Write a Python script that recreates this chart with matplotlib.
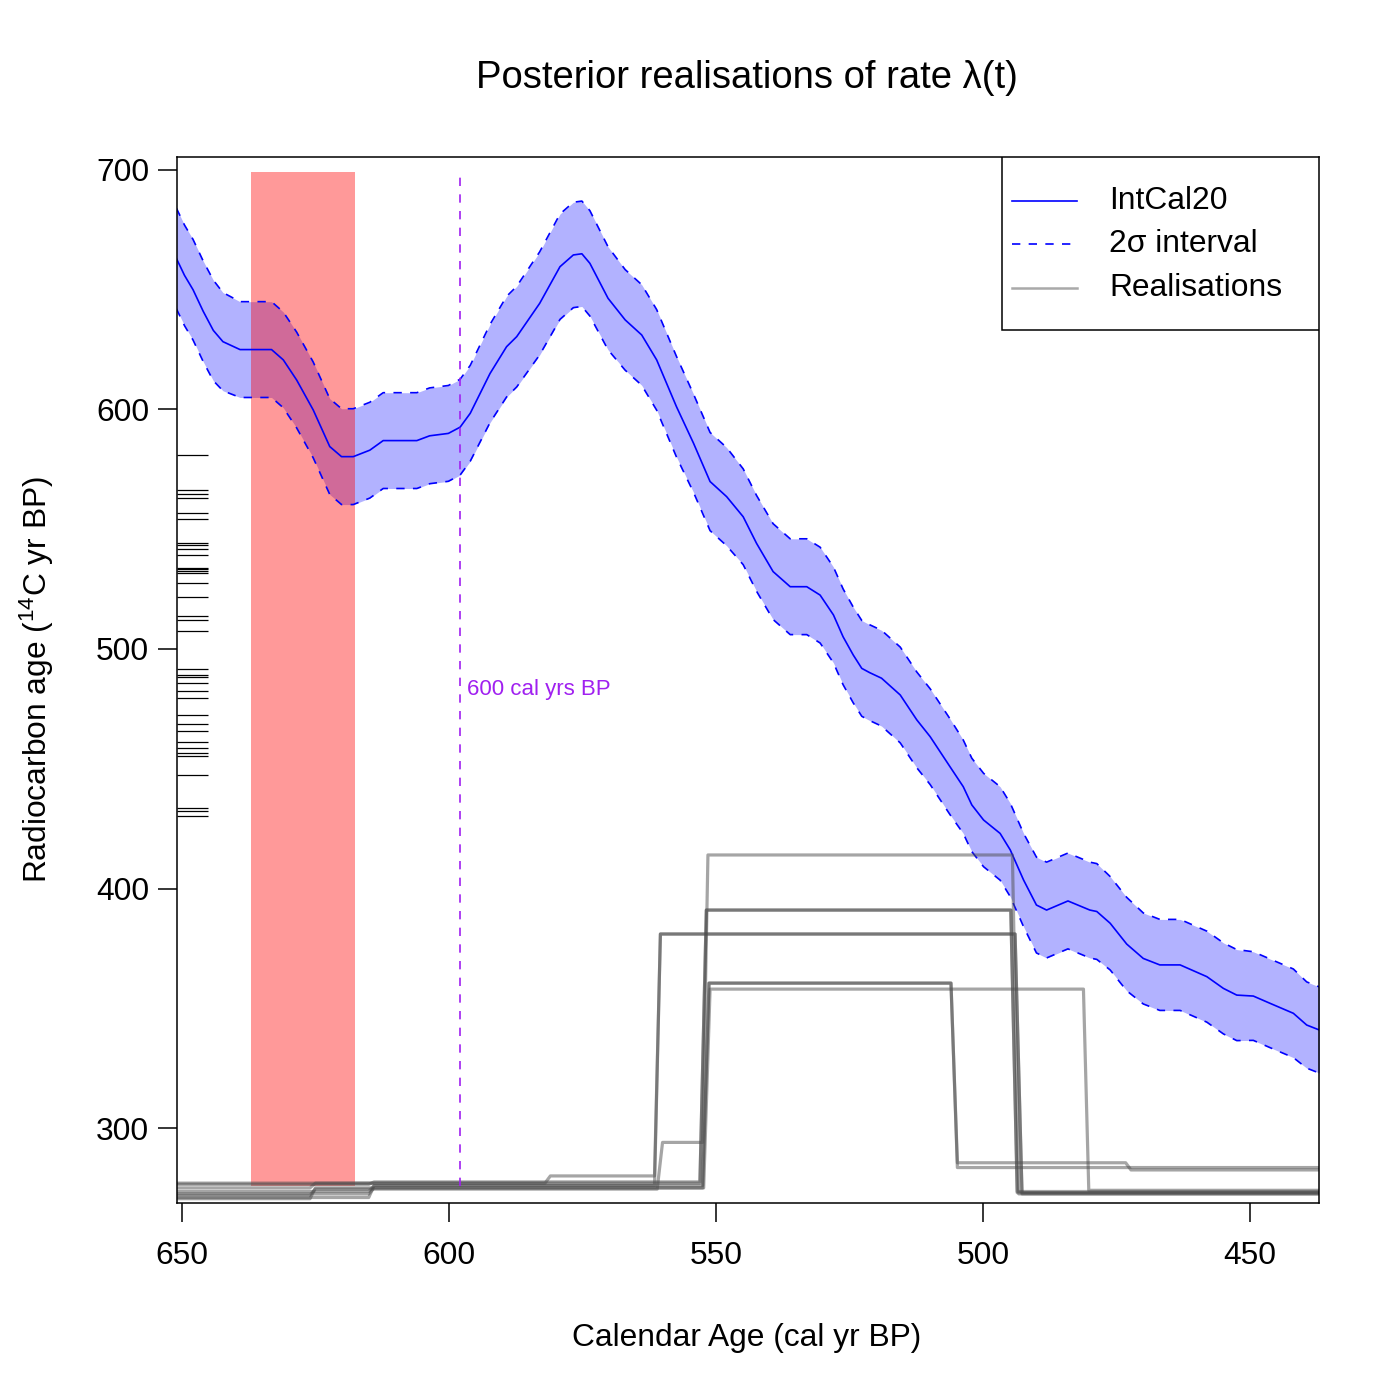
import matplotlib
matplotlib.use('Agg')
import matplotlib.pyplot as plt
from matplotlib.patches import Rectangle
import numpy as np

plt.rcParams['font.family'] = ['Liberation Sans', 'DejaVu Sans']
plt.rcParams['mathtext.fontset'] = 'custom'
plt.rcParams['mathtext.rm'] = 'Liberation Sans'
plt.rcParams['mathtext.it'] = 'Liberation Sans:italic'

# IntCal20 curve
cal_age = [651.0, 649.5, 647.9, 646.0, 644.1, 642.3, 639.1, 633.2, 631.0, 628.5,
           625.4, 622.3, 620.1, 617.9, 614.8, 612.3, 606.0, 603.6, 600.1, 597.9,
           596.0, 592.3, 589.2, 587.3, 583.0, 579.2, 576.7, 575.1, 573.6, 570.2,
           567.0, 563.9, 561.1, 557.4, 554.2, 551.1, 548.0, 544.9, 542.4, 539.3,
           536.1, 533.0, 530.5, 528.0, 526.2, 524.3, 522.7, 521.2, 519.0, 515.5,
           512.4, 509.9, 506.2, 503.7, 502.1, 499.9, 496.8, 494.9, 492.4, 490.0,
           488.1, 484.1, 480.0, 478.7, 476.2, 473.1, 470.0, 466.9, 463.1, 458.1,
           455.0, 452.5, 449.4, 446.3, 441.9, 439.4, 437.0]
c14_mean = [663.0, 656.0, 650.0, 641.0, 633.0, 628.3, 625.0, 625.0, 620.7, 612.3,
            599.8, 584.5, 580.3, 580.3, 583.0, 587.0, 587.0, 589.0, 590.0, 592.6,
            598.4, 615.0, 626.2, 630.4, 644.3, 659.6, 664.5, 665.0, 661.0, 646.4,
            637.4, 631.1, 620.7, 601.2, 585.9, 569.9, 563.6, 555.2, 544.1, 532.3,
            526.0, 526.0, 522.5, 514.2, 505.1, 497.5, 491.9, 490.1, 487.8, 480.8,
            470.4, 463.4, 450.9, 442.5, 434.9, 428.6, 423.0, 416.1, 403.5, 393.1,
            391.0, 394.8, 391.0, 390.4, 385.5, 376.8, 370.8, 368.1, 368.1, 363.2,
            358.3, 355.5, 355.1, 352.1, 347.9, 343.0, 340.9]
c14_2sd = [21.0, 21.0, 21.0, 21.0, 21.0, 20.5, 20.0, 20.0, 20.0, 20.0,
           20.0, 20.0, 20.0, 20.0, 20.0, 20.0, 20.0, 20.0, 20.0, 20.0,
           20.0, 20.5, 21.0, 21.0, 21.5, 22.0, 22.0, 22.0, 22.0, 21.5,
           21.0, 21.0, 21.0, 21.0, 20.5, 20.5, 20.5, 20.0, 20.0, 20.0,
           20.0, 20.0, 20.0, 20.0, 20.0, 20.0, 20.0, 20.0, 20.0, 20.0,
           20.0, 20.0, 20.0, 19.5, 19.5, 19.5, 19.5, 19.5, 19.5, 20.0,
           20.0, 20.0, 20.0, 20.0, 19.5, 19.5, 19.0, 19.0, 19.0, 19.0,
           19.0, 19.0, 18.5, 18.5, 18.5, 18.0, 18.0]

# radiocarbon determinations (rug on the y axis)
c14_obs = [581.0, 566.4, 564.6, 563.2, 556.9, 554.1, 544.1, 543.6, 541.9, 539.3,
           533.9, 533.3, 532.6, 531.9, 527.4, 521.8, 513.8, 512.1, 507.6, 491.5,
           489.0, 488.3, 485.9, 482.6, 479.7, 472.3, 468.7, 465.9, 461.0, 458.5,
           456.4, 455.5, 447.4, 433.8, 432.4, 430.3]

# posterior realisations of the rate (already on the plotting scale)
real_cal = [
    [651, 626.0, 625.0, 561.0, 560.0, 552.5, 551.5, 494.5, 493.3, 437],
    [651, 615.0, 614.0, 553.0, 551.8, 494.8, 493.6, 437],
    [651, 626.0, 625.0, 553.0, 551.8, 494.8, 493.6, 437],
    [651, 582.0, 581.0, 561.5, 560.4, 494.0, 492.7, 437],
    [651, 615.0, 614.0, 561.5, 560.4, 494.0, 492.7, 437],
    [651, 626.0, 625.0, 552.5, 551.3, 506.0, 504.8, 437],
    [651, 615.0, 614.0, 552.5, 551.3, 506.0, 504.8, 473.3, 472.3, 437],
    [651, 615.0, 614.0, 552.3, 551.1, 481.2, 480.2, 437],
]
real_val = [
    [272.0, 272.0, 274.5, 274.5, 294.0, 294.0, 414.0, 414.0, 272.5, 272.5],
    [276.5, 276.5, 277.5, 277.5, 391.0, 391.0, 273.5, 273.5],
    [275.0, 275.0, 277.0, 277.0, 391.0, 391.0, 273.0, 273.0],
    [277.0, 277.0, 280.0, 280.0, 381.0, 381.0, 273.0, 273.0],
    [273.5, 273.5, 276.0, 276.0, 381.0, 381.0, 272.5, 272.5],
    [270.5, 270.5, 275.0, 275.0, 360.5, 360.5, 283.5, 283.5],
    [271.0, 271.0, 276.0, 276.0, 360.5, 360.5, 285.5, 285.5, 282.5, 282.5],
    [272.5, 272.5, 275.0, 275.0, 358.0, 358.0, 274.0, 274.0],
]

shade_from, shade_to = 637.1, 617.6
shade_low, shade_high = 276.0, 699.0
marker_age = 598.0

legend_labels = ['IntCal20', '2\u03c3 interval', 'Realisations']

mean = np.array(c14_mean)
sd2 = np.array(c14_2sd)

fig = plt.figure(figsize=(14, 14), dpi=100)
ax = fig.add_axes([177/1400, 1-1203/1400, 1142/1400, 1046/1400])

ax.fill_between(cal_age, mean - sd2, mean + sd2, color='blue', alpha=0.3, lw=0)
ax.plot(cal_age, mean, color='blue', lw=1.2)
ax.plot(cal_age, mean + sd2, color='blue', lw=1.2, dashes=(5, 5))
ax.plot(cal_age, mean - sd2, color='blue', lw=1.2, dashes=(5, 5))

for xs, ys in zip(real_cal, real_val):
    ax.plot(xs, ys, color='#4d4d4d', alpha=0.5, lw=2.3)

ax.hlines(c14_obs, 0, 0.027, transform=ax.get_yaxis_transform(), color='black', lw=0.9)

ax.fill_between([shade_from, shade_to], shade_low, shade_high, color='red', alpha=0.4, lw=0)
ax.vlines(marker_age, shade_low, shade_high, color='#A020F0', lw=1.2, linestyles=(0, (5, 5)))
ax.text(marker_age - 1.4, 483, '600 cal yrs BP', color='#A020F0', fontsize=16, va='center', ha='left')

ax.set_xlim(650.9, 437.1)
ax.set_ylim(268.7, 705.4)
ax.set_xticks([650, 600, 550, 500, 450])
ax.set_yticks([300, 400, 500, 600, 700])
ax.tick_params(axis='both', labelsize=22.9, length=14, width=1.1, direction='out')
ax.tick_params(axis='x', pad=13)
ax.tick_params(axis='y', pad=6)
for s in ax.spines.values():
    s.set_linewidth(1.1)

# legend box, drawn the way R lays it out
def axfrac(px, py):
    return (px - 177) / 1142, (1203 - py) / 1046

x0, y0 = axfrac(1002, 330)
x1, y1 = axfrac(1319, 157)
ax.add_patch(Rectangle((x0, y0), x1 - x0, y1 - y0, transform=ax.transAxes,
                       facecolor='white', edgecolor='black', lw=1.1, zorder=5))
styles = [dict(color='blue', lw=1.2),
          dict(color='blue', lw=1.2, dashes=(5, 5)),
          dict(color='#a9a9a9', lw=1.8)]
for row_y, label, st in zip([201, 244, 288], legend_labels, styles):
    hx0, hy = axfrac(1012, row_y)
    hx1, _ = axfrac(1077, row_y)
    tx, _ = axfrac(1109, row_y)
    ax.plot([hx0, hx1], [hy, hy], transform=ax.transAxes, zorder=6, **st)
    ax.text(tx, hy, label, transform=ax.transAxes, fontsize=22.9, va='center', ha='left', zorder=6)

fig.text(747/1400, 1-78/1400, 'Posterior realisations of rate \u03bb(t)', fontsize=27.5,
         ha='center', va='center')
fig.text(747/1400, 1-1338/1400, 'Calendar Age (cal yr BP)', fontsize=22.9, ha='center', va='center')
fig.text(37/1400, 1-680/1400, r'Radiocarbon age ($^{14}$C yr BP)', fontsize=22.9,
         ha='center', va='center', rotation=90)

fig.savefig('out.png', dpi=100)
